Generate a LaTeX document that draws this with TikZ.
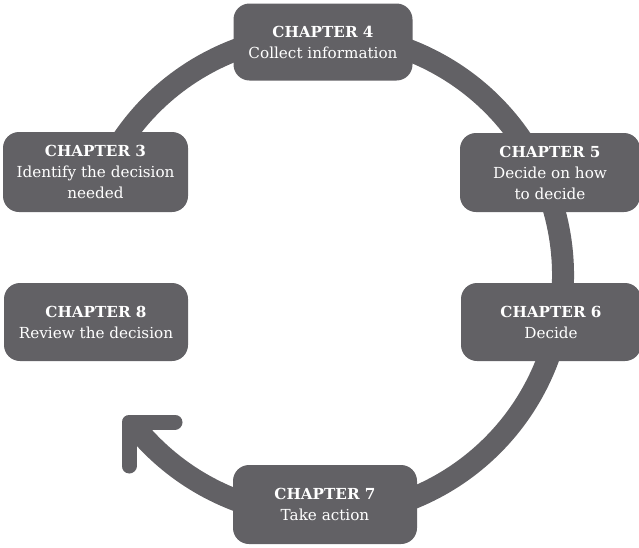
\documentclass[tikz,border=0pt]{standalone}
\usepackage{fontspec}
\setmainfont{DejaVu Serif}
\definecolor{ringgray}{RGB}{98,97,101}
\begin{document}
\begin{tikzpicture}[x=1pt,y=-1pt,
  box/.style={fill=ringgray, text=white, rounded corners=16pt, align=center,
    inner sep=0pt, font=\fontsize{15.2}{21}\selectfont},
  ring/.style={draw=ringgray, line width=22pt},
  chev/.style={draw=ringgray, line width=15pt, line cap=round, line join=round}]
\useasboundingbox (0,0) rectangle (639,547);
\coordinate (ctr) at (322,275);
% ring
\draw[ring] (ctr) ++(-150:241) arc[start angle=-150, end angle=140, radius=241];
% arrowhead
\coordinate (tip) at (129,422);
\coordinate (armA) at (175,422);
\coordinate (armB) at (129,466);
\draw[chev] (armA) -- (tip) -- (armB);
% boxes
\node[box, minimum width=179pt, minimum height=77pt] (c4) at (323,42)
  {\textbf{CHAPTER 4}\\Collect information};
\node[box, minimum width=185pt, minimum height=80pt] (c3) at (95.5,172)
  {\textbf{CHAPTER 3}\\Identify the decision\\needed};
\node[box, minimum width=180pt, minimum height=79pt] (c5) at (550,172.5)
  {\textbf{CHAPTER 5}\\Decide on how\\to decide};
\node[box, minimum width=184pt, minimum height=78pt] (c8) at (96,322)
  {\textbf{CHAPTER 8}\\Review the decision};
\node[box, minimum width=180pt, minimum height=78pt] (c6) at (551,322)
  {\textbf{CHAPTER 6}\\Decide};
\node[box, minimum width=184pt, minimum height=79pt] (c7) at (325,504.5)
  {\textbf{CHAPTER 7}\\Take action};
\end{tikzpicture}
\end{document}
